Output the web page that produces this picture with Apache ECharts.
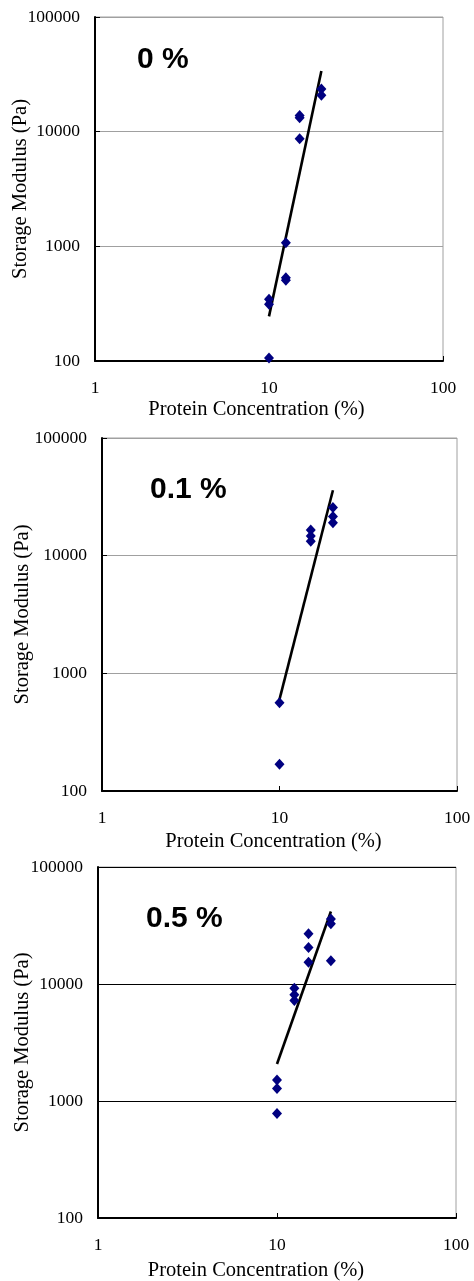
<!DOCTYPE html>
<html>
<head>
<meta charset="utf-8">
<script src="https://cdn.jsdelivr.net/npm/echarts@6/dist/echarts.min.js"></script>
<style>
html,body{margin:0;padding:0;background:#fff;}
#chart{width:474px;height:1281px;}
</style>
</head>
<body>
<div id="chart"></div>
<script>
// Panel labels (surfactant concentration)
const panelLabels = ['0 %', '0.1 %', '0.5 %'];
const xTitle = 'Protein Concentration (%)';
const yTitle = 'Storage Modulus (Pa)';

// Panel 1: 0 %
const conc0 = [10, 10, 10, 12.5, 12.5, 12.5, 15, 15, 15, 20, 20];
const mod0  = [345, 312, 106, 1076, 533, 505, 13870, 13250, 8690, 23560, 20740];
const trendX0 = [10, 20];
const trendY0 = [245, 33800];

// Panel 2: 0.1 %
const conc1 = [10, 10, 15, 15, 15, 20, 20, 20];
const mod1  = [561, 169, 16560, 14720, 13270, 25700, 21530, 19000];
const trendX1 = [10, 20];
const trendY1 = [600, 36000];

// Panel 3: 0.5 %
const conc2 = [10, 10, 10, 12.5, 12.5, 12.5, 15, 15, 15, 20, 20, 20];
const mod2  = [1510, 1280, 782, 9200, 8080, 7210, 26850, 20500, 15350, 35900, 32750, 15780];
const trendX2 = [10, 20];
const trendY2 = [2070, 41700];

const panels = [
  {conc: conc0, mod: mod0, tx: trendX0, ty: trendY0, grid: {left: 95, top: 17, width: 348, height: 344}, gridColor: '#a0a0a0', yGap: 64, xGap: 38, xPad: [0, 25, 0, 0], label: {x: 137, y: 60}},
  {conc: conc1, mod: mod1, tx: trendX1, ty: trendY1, grid: {left: 102, top: 438, width: 355, height: 353}, gridColor: '#a0a0a0', yGap: 69, xGap: 40, xPad: [0, 12, 0, 0], label: {x: 150, y: 490}},
  {conc: conc2, mod: mod2, tx: trendX2, ty: trendY2, grid: {left: 98, top: 867, width: 358, height: 351}, gridColor: '#000000', yGap: 65, xGap: 42, xPad: [0, 42, 0, 0], label: {x: 146, y: 919}}
];

const serif = '"Liberation Serif", "Times New Roman", serif';

const option = {
  animation: false,
  backgroundColor: '#ffffff',
  grid: [], xAxis: [], yAxis: [], series: [], graphic: []
};

panels.forEach((p, i) => {
  option.grid.push(Object.assign({show: true, borderColor: '#a0a0a0', borderWidth: 1, backgroundColor: '#ffffff', containLabel: false, outerBoundsMode: 'none'}, p.grid));
  option.xAxis.push({
    type: 'log', logBase: 10, min: 1, max: 100, gridIndex: i,
    name: xTitle, nameLocation: 'middle', nameGap: p.xGap, nameMoveOverlap: false,
    nameTextStyle: {fontFamily: serif, fontSize: 20.5, color: '#000', padding: p.xPad},
    axisLine: {show: true, lineStyle: {color: '#000', width: 2}},
    axisTick: {show: true, inside: true, length: 5, lineStyle: {color: '#000'}},
    minorTick: {show: false},
    axisLabel: {fontFamily: serif, fontSize: 17.5, color: '#000', margin: 18, formatter: v => String(v)},
    splitLine: {show: false}
  });
  option.yAxis.push({
    type: 'log', logBase: 10, min: 100, max: 100000, gridIndex: i,
    name: yTitle, nameLocation: 'middle', nameGap: p.yGap, nameRotate: 90, nameMoveOverlap: false,
    nameTextStyle: {fontFamily: serif, fontSize: 20.5, color: '#000'},
    axisLine: {show: true, lineStyle: {color: '#000', width: 2}},
    axisTick: {show: true, inside: true, length: 5, lineStyle: {color: '#000'}},
    axisLabel: {fontFamily: serif, fontSize: 17.5, color: '#000', margin: 15, formatter: v => String(v)},
    splitLine: {show: true, lineStyle: {color: p.gridColor, width: 1}}
  });
  option.series.push({
    type: 'line', xAxisIndex: i, yAxisIndex: i,
    data: p.tx.map((x, k) => [x, p.ty[k]]),
    showSymbol: false, symbol: 'none',
    lineStyle: {color: '#000', width: 2.6}, z: 3
  });
  option.series.push({
    type: 'scatter', xAxisIndex: i, yAxisIndex: i,
    data: p.conc.map((x, k) => [x, p.mod[k]]),
    symbol: 'diamond', symbolSize: [10, 11],
    itemStyle: {color: '#000080', opacity: 1}, z: 4
  });
  option.graphic.push({
    type: 'text', left: p.label.x, top: p.label.y - 15,
    style: {text: panelLabels[i], font: 'bold 30px "Liberation Sans", Arial, sans-serif', fill: '#000'}
  });
});

const chart = echarts.init(document.getElementById('chart'), null, {renderer: 'canvas'});
chart.setOption(option);
</script>
</body>
</html>
